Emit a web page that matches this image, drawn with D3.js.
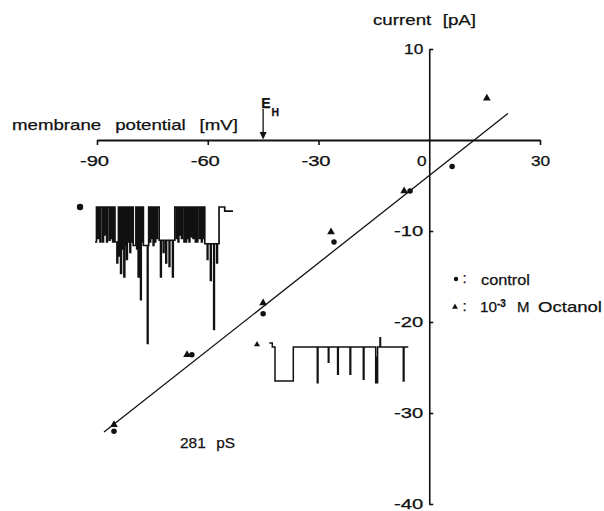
<!doctype html>
<html>
  <head>
    <meta charset="utf-8"/>
    <title>Single channel I-V relation</title>
    <style>
      body, html {
        margin: 0;
        padding: 0;
        background: #fff;
      }
      svg { display: block; }
      text {
        font-family: "Liberation Sans", Arial, Helvetica, sans-serif;
        fill: #111;
        stroke: #111;
        stroke-width: 0.25px;
      }
      .tick text { font-size: 14px; }
      .lbl { font-size: 15px; }
      .trace { fill: none; stroke: #111; stroke-linejoin: miter; }
    </style>
    <script src="https://d3js.org/d3.v7.min.js"></script>
  </head>
  <body>
    <div id="chart"></div>

    <script>
      var width = 604,
          height = 511;

      // axes
      var vTicks = [-90, -60, -30, 0, 30];
      var iTicks = [10, -10, -20, -30, -40];
      var eH = -45;

      // single channel current vs membrane potential
      var controlV = [-85.4, -64.3, -45.0, -25.8, -5.2, 6.2];
      var controlI = [-32.0, -23.6, -19.1, -11.2, -5.6, -2.9];
      var octanolV = [-85.4, -65.6, -45.0, -26.6, -6.8, 15.6];
      var octanolI = [-31.3, -23.6, -17.9, -10.1, -5.6, 4.6];

      // regression line (281 pS)
      var fitV = [-88.1, 21.3];
      var fitI = [-32.1, 2.9];

      // inset traces: step times and levels (in channel units)
      var ctrlT = [0, 1.5, 3, 3.7, 5, 5.8, 7.7, 8.5, 9.8, 10.4, 11.7, 12.4, 14.3, 15, 16, 16.6, 17.7, 18.4,
                   20, 22, 22.7, 23.5, 24.4, 25, 25.7, 26.5, 27.5, 28.2, 29, 29.8, 30.6, 31.2, 31.7, 32.4, 33.4, 34.1,
                   35, 35.7, 36.8, 37.4, 38.3, 41, 41.8, 42.4, 43.3, 44, 45.7, 46.3, 47.2, 47.8,
                   48.5, 52.5, 53.1, 53.8, 55, 55.7, 56.8, 57.4, 58.3, 59, 60.2, 60.8, 61.7, 62.4,
                   64.3, 65.7, 66.4, 68.5, 69.1, 71, 71.7, 74.3, 75, 77.7, 78.4, 80,
                   81.8, 82.4, 83.3, 84, 85.2, 85.8, 86.7, 87.4, 89.2, 89.8, 91, 91.7, 92.8, 93.4, 94.3, 95,
                   96.6, 97.2, 98.3, 99, 100.6, 101.2, 102.3, 103, 104.8, 105.4, 106.7, 107.4, 108.6, 109.2,
                   110, 112.5, 113.1, 115.7, 116.4, 119, 119.6, 122, 122.7, 124.3, 130, 138.3];
      var ctrlL = [-1, 0, -0.9, 0, -1, 0, -1, 0, -0.8, 0, -1, 0, -0.95, 0, -0.9, 0, -1, 0,
                   -1, -1.6, -1, 0, -1.4, 0, -1.9, 0, -1.2, 0, -2.0, 0, -1.1, 0, -1.5, 0, -1.0, 0,
                   -1.3, 0, -1.0, 0, -1.1, 0, -1.2, 0, -2.0, 0, -2.65, 0, -1.0, 0,
                   -1.1, -3.9, -1.1, 0, -1.0, 0, -0.9, 0, -1.1, 0, -1.0, 0, -0.9, 0,
                   -0.95, -2.0, -0.95, -1.3, -0.95, -1.6, -0.95, -1.7, -0.95, -2.0, -0.95, 0,
                   -0.9, 0, -1.0, 0, -0.8, 0, -0.9, 0, -1.0, 0, -1.0, 0, -0.9, 0, -1.0, 0,
                   -0.85, 0, -0.9, 0, -1.0, 0, -1.0, 0, -0.9, 0, -1.0, 0, -0.9, 0,
                   -1.05, -1.5, -1.05, -2.1, -1.05, -3.5, -1.05, -1.6, -1.05, 0, -0.12, -0.12];

      var octT = [0, 3, 5.7, 24, 48, 48.7, 59, 59.6, 68.3, 69, 80.7, 81.4, 94, 94.7,
                  106.4, 107, 107.6, 108.3, 110.7, 111.2, 134, 134.7, 139];
      var octL = [0.12, 0, -1, 0, -1.05, 0, -0.45, 0, -0.8, 0, -0.8, 0, -0.95, 0,
                  -1.05, -0.3, -1.05, 0, 0.27, 0, -1.0, 0, 0];

      var x = d3.scaleLinear().domain([-90, 30]).range([97, 540]);
      var y = d3.scaleLinear().domain([-40, 10]).range([504, 49]);

      var svg = d3.select("#chart").append("svg")
        .attr("width", width)
        .attr("height", height);

      function labelLen(d) {
        var n = String(Math.abs(d)).length;
        return n * 9.6 + (d < 0 ? 10 : 0);
      }

      // x axis (membrane potential)
      var gx = svg.append("g")
        .attr("transform", "translate(0," + y(0) + ")")
        .call(d3.axisBottom(x)
          .tickValues(vTicks)
          .tickSize(5)
          .tickSizeOuter(0)
          .tickPadding(11.5)
          .tickFormat(function(d) { return String(d); }));
      gx.select(".domain").attr("stroke", "#111").attr("stroke-width", 2);
      gx.selectAll(".tick line").attr("stroke", "#111").attr("stroke-width", 1.6);
      gx.selectAll(".tick text")
        .attr("fill", "#111")
        .attr("textLength", labelLen)
        .attr("lengthAdjust", "spacingAndGlyphs")
        .attr("dx", function(d) { return d < 0 ? -3 : 0; });
      gx.selectAll(".tick").filter(function(d) { return d === 0; })
        .call(function(t) {
          t.select("line").remove();
          t.select("text").attr("dx", -8);
        });

      // y axis (current)
      var gy = svg.append("g")
        .attr("transform", "translate(" + x(0) + ",0)")
        .call(d3.axisRight(y)
          .tickValues(iTicks)
          .tickSize(4)
          .tickSizeOuter(0)
          .tickFormat(function(d) { return String(d); }));
      gy.select(".domain").attr("stroke", "#111").attr("stroke-width", 1.6);
      gy.selectAll(".tick line").attr("stroke", "#111").attr("stroke-width", 1.6);
      gy.selectAll(".tick text")
        .attr("fill", "#111")
        .attr("x", -6)
        .attr("text-anchor", "end")
        .attr("textLength", labelLen)
        .attr("lengthAdjust", "spacingAndGlyphs");

      // axis titles
      svg.append("text")
        .attr("class", "lbl")
        .attr("x", 12)
        .attr("y", 129.5)
        .attr("textLength", 226)
        .attr("lengthAdjust", "spacingAndGlyphs")
        .style("word-spacing", "7px")
        .text("membrane potential [mV]");

      svg.append("text")
        .attr("class", "lbl")
        .attr("x", 373)
        .attr("y", 25)
        .attr("textLength", 103)
        .attr("lengthAdjust", "spacingAndGlyphs")
        .style("word-spacing", "5px")
        .text("current [pA]");

      // E_H arrow
      var eh = svg.append("g");
      eh.append("line")
        .attr("x1", x(eH)).attr("x2", x(eH))
        .attr("y1", y(0) - 31).attr("y2", y(0) - 6)
        .attr("stroke", "#111").attr("stroke-width", 1.3);
      eh.append("path")
        .attr("d", "M" + (x(eH) - 3.5) + "," + (y(0) - 8) + "L" + (x(eH) + 3.5) + "," + (y(0) - 8) + "L" + x(eH) + "," + (y(0) - 0.5) + "Z")
        .attr("fill", "#111");
      var ehText = eh.append("text")
        .attr("x", x(eH) - 2)
        .attr("y", 108)
        .style("font-size", "14px")
        .style("font-weight", "bold");
      ehText.append("tspan").text("E");
      ehText.append("tspan").attr("dx", 1).attr("dy", 8).style("font-size", "10.5px").text("H");

      // fit line
      svg.append("path")
        .datum(d3.zip(fitV, fitI))
        .attr("fill", "none")
        .attr("stroke", "#111")
        .attr("stroke-width", 1.3)
        .attr("d", d3.line()
          .x(function(d) { return x(d[0]); })
          .y(function(d) { return y(d[1]); }));

      var circle = d3.symbol(d3.symbolCircle, 24);
      var triangle = d3.symbol(d3.symbolTriangle, 26);

      svg.selectAll(".ctrl")
        .data(d3.zip(controlV, controlI))
        .enter().append("path")
          .attr("class", "ctrl")
          .attr("fill", "#111")
          .attr("transform", function(d) { return "translate(" + x(d[0]) + "," + y(d[1]) + ")"; })
          .attr("d", circle);

      svg.selectAll(".oct")
        .data(d3.zip(octanolV, octanolI))
        .enter().append("path")
          .attr("class", "oct")
          .attr("fill", "#111")
          .attr("transform", function(d) { return "translate(" + x(d[0]) + "," + y(d[1]) + ")"; })
          .attr("d", triangle);

      // inset recordings
      function drawTrace(times, levels, tx, ly, sw) {
        var pts = d3.zip(times, levels);
        svg.append("path")
          .datum(pts)
          .attr("class", "trace")
          .attr("stroke-width", sw)
          .attr("d", d3.line()
            .x(function(d) { return tx(d[0]); })
            .y(function(d) { return ly(d[1]); })
            .curve(d3.curveStepAfter));
      }

      var t1 = d3.scaleLinear().domain([0, 138.3]).range([95, 233]);
      var l1 = d3.scaleLinear().domain([0, -1]).range([207, 242]);
      drawTrace(ctrlT, ctrlL, t1, l1, 1.7);
      svg.append("path")
        .attr("fill", "#111")
        .attr("transform", "translate(" + t1(-15) + "," + l1(0) + ")")
        .attr("d", d3.symbol(d3.symbolCircle, 32));

      var t2 = d3.scaleLinear().domain([0, 139]).range([269.3, 408.3]);
      var l2 = d3.scaleLinear().domain([0, -1]).range([347, 381]);
      drawTrace(octT, octL, t2, l2, 1.5);
      svg.append("path")
        .attr("fill", "#111")
        .attr("transform", "translate(" + t2(-12.3) + "," + l2(0.07) + ")")
        .attr("d", d3.symbol(d3.symbolTriangle, 16));

      // conductance label
      svg.append("text")
        .attr("class", "lbl")
        .attr("x", 180)
        .attr("y", 448)
        .attr("textLength", 55)
        .attr("lengthAdjust", "spacingAndGlyphs")
        .style("word-spacing", "6px")
        .text("281 pS");

      // legend
      var leg = svg.append("g");
      leg.append("path")
        .attr("fill", "#111")
        .attr("transform", "translate(456,279)")
        .attr("d", d3.symbol(d3.symbolCircle, 15));
      leg.append("text").attr("class", "lbl").attr("x", 462.5).attr("y", 283).text(":");
      leg.append("text")
        .attr("class", "lbl")
        .attr("x", 481).attr("y", 285)
        .attr("textLength", 49)
        .attr("lengthAdjust", "spacingAndGlyphs")
        .text("control");

      leg.append("path")
        .attr("fill", "#111")
        .attr("transform", "translate(455,307)")
        .attr("d", d3.symbol(d3.symbolTriangle, 15));
      leg.append("text").attr("class", "lbl").attr("x", 462.5).attr("y", 311).text(":");
      leg.append("text")
        .attr("class", "lbl")
        .attr("x", 480).attr("y", 312)
        .attr("textLength", 17)
        .attr("lengthAdjust", "spacingAndGlyphs")
        .text("10");
      leg.append("text")
        .attr("x", 497).attr("y", 306.5)
        .style("font-size", "10px")
        .style("font-weight", "bold")
        .text("-3");
      leg.append("text")
        .attr("class", "lbl")
        .attr("x", 517).attr("y", 312)
        .text("M");
      leg.append("text")
        .attr("class", "lbl")
        .attr("x", 538).attr("y", 312)
        .attr("textLength", 64)
        .attr("lengthAdjust", "spacingAndGlyphs")
        .text("Octanol");
    </script>
  </body>
</html>
